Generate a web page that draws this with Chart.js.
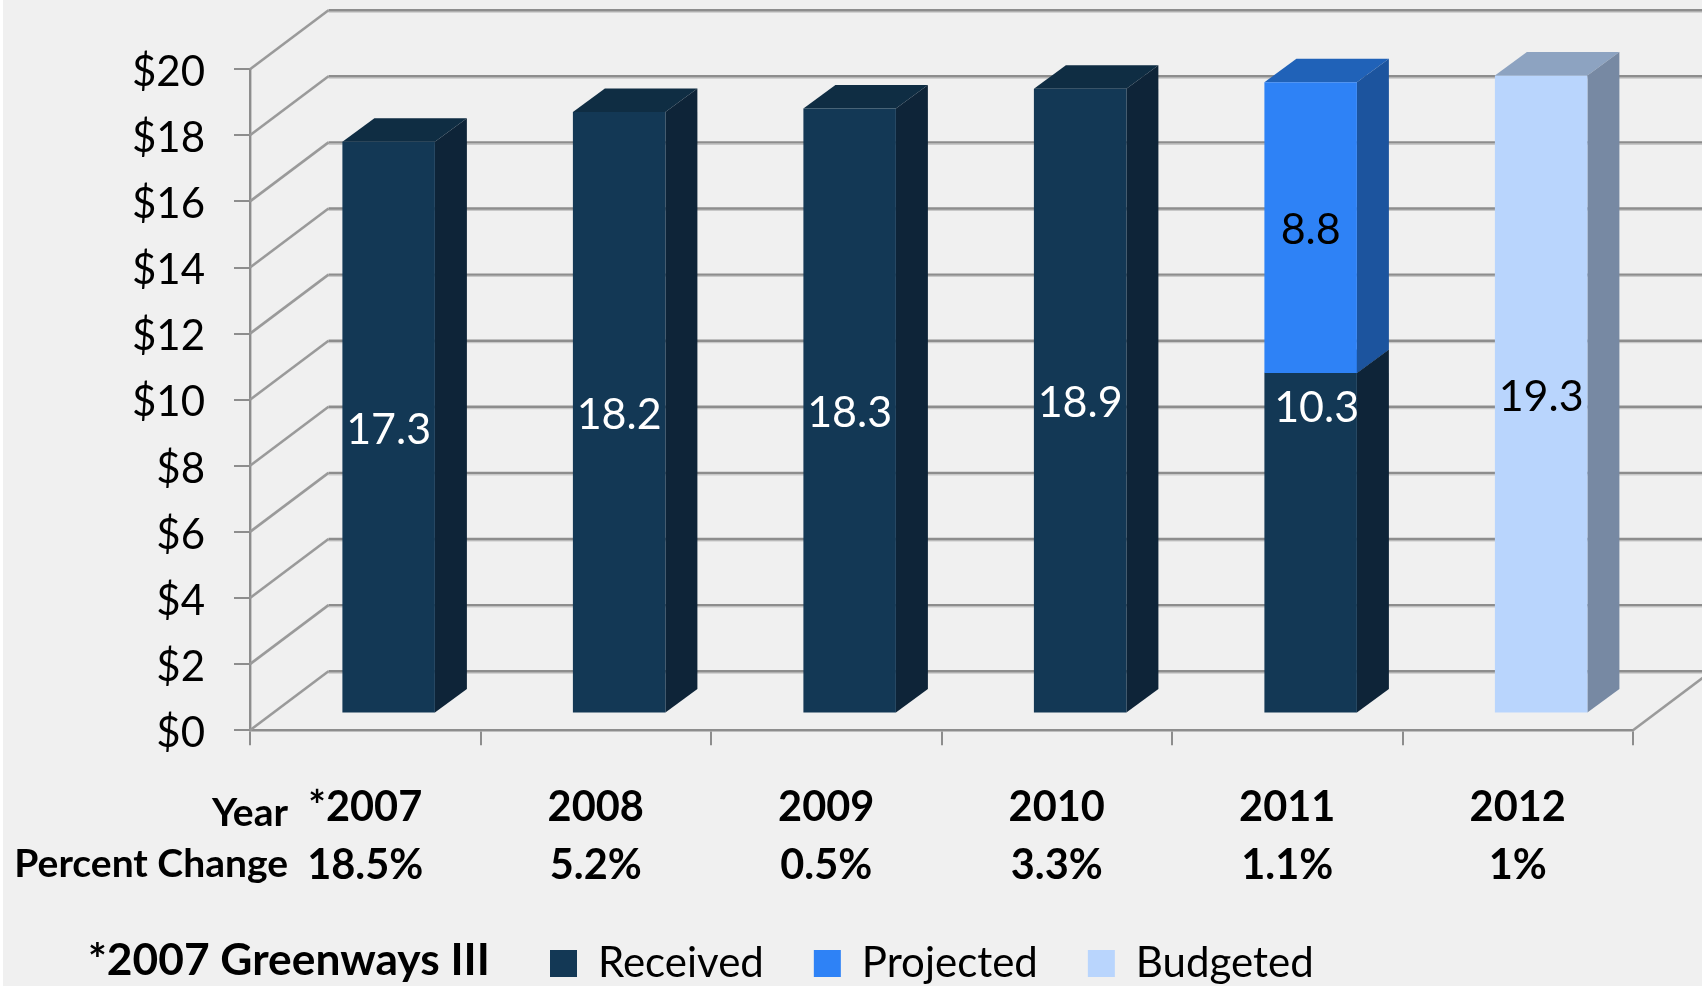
<!DOCTYPE html>
<html>
<head>
<meta charset="utf-8">
<title>Funding by year</title>
<script src="https://cdn.jsdelivr.net/npm/chart.js@4"></script>
<style>
  html, body { margin: 0; padding: 0; background: #fff; }
  canvas { display: block; }
</style>
</head>
<body>
<canvas id="chart" width="1702" height="987"></canvas>
<script>
// Values
const years = ['*2007', '2008', '2009', '2010', '2011', '2012'];
const percentChange = ['18.5%', '5.2%', '0.5%', '3.3%', '1.1%', '1%'];
const received = [17.3, 18.2, 18.3, 18.9, 10.3, null];
const projected = [null, null, null, null, 8.8, null];
const budgeted = [null, null, null, null, null, 19.3];
const yTicks = [0, 2, 4, 6, 8, 10, 12, 14, 16, 18, 20];

// Faces of each extruded bar: front, side, top, and the value label colour
const faces = [
  { front: '#133855', side: '#0e2438', top: '#0f2d43', label: '#ffffff' },
  { front: '#2e82f6', side: '#1c549e', top: '#2062b8', label: '#000000' },
  { front: '#b9d5fd', side: '#7789a3', top: '#8da3c1', label: '#000000' }
];

const FONT = 'Lato, Carlito, "Open Sans", sans-serif';
const GRID = '#8d8d8d';
const WALL = { dx: 78.5, dy: -59 };      // back wall relative to the axis plane
const BAR_SHIFT = { dx: 23.4, dy: -16.8 }; // bar fronts relative to the axis plane
const BAR_DEPTH = { dx: 32, dy: -23.5 };

function stroke(ctx, x0, y0, x1, y1, color, width) {
  ctx.strokeStyle = color;
  ctx.lineWidth = width;
  ctx.beginPath();
  ctx.moveTo(x0, y0);
  ctx.lineTo(x1, y1);
  ctx.stroke();
}

function poly(ctx, pts, color) {
  ctx.fillStyle = color;
  ctx.beginPath();
  pts.forEach((p, i) => (i ? ctx.lineTo(p[0], p[1]) : ctx.moveTo(p[0], p[1])));
  ctx.closePath();
  ctx.fill();
}

const extrudedBars = {
  id: 'extrudedBars',

  // Legend sits on a hand-placed row beside the footnote
  afterLayout(chart) {
    const lg = chart.legend;
    lg.left = 550 - lg.options.labels.padding;
    lg.top = 963.5 - lg.options.labels.padding - lg.options.labels.font.size / 2;
  },

  beforeDraw(chart) {
    const { ctx, width, height } = chart;
    ctx.save();
    ctx.fillStyle = '#f0f0f0';
    ctx.fillRect(3, 0, width - 3, height - 1);
    ctx.restore();
  },

  beforeDatasetsDraw(chart) {
    const { ctx, scales: { x, y }, width } = chart;
    ctx.save();
    // Back wall rules and the left wall diagonals
    yTicks.forEach(v => {
      const py = y.getPixelForValue(v);
      stroke(ctx, x.left + WALL.dx, py + WALL.dy + 1.8, width, py + WALL.dy + 1.8, '#c8c8c8', 1.4);
      stroke(ctx, x.left + WALL.dx, py + WALL.dy, width, py + WALL.dy, GRID, 2.4);
      stroke(ctx, x.left, py, x.left + WALL.dx, py + WALL.dy, '#9a9a9a', 2.6);
    });
    // Floor edge on the right
    const y0 = y.getPixelForValue(0);
    stroke(ctx, x.right, y0, x.right + WALL.dx, y0 + WALL.dy, '#9a9a9a', 2.6);

    // Tops and sides; the fronts come from the library's own bar elements
    ctx.translate(BAR_SHIFT.dx, BAR_SHIFT.dy);
    chart.data.datasets.forEach((ds, d) => {
      chart.getDatasetMeta(d).data.forEach((bar, i) => {
        if (ds.data[i] == null) return;
        const { x: cx, y: top, base, width: w } = bar.getProps(['x', 'y', 'base', 'width']);
        const l = cx - w / 2, r = cx + w / 2;
        const { dx, dy } = BAR_DEPTH;
        poly(ctx, [[l, top], [r, top], [r + dx, top + dy], [l + dx, top + dy]], faces[d].top);
        poly(ctx, [[r, top], [r + dx, top + dy], [r + dx, base + dy], [r, base]], faces[d].side);
      });
    });
  },

  afterDatasetsDraw(chart) {
    const { ctx } = chart;
    // Still translated from beforeDatasetsDraw: value labels follow the bar fronts
    ctx.font = '43px ' + FONT;
    ctx.textAlign = 'center';
    ctx.textBaseline = 'middle';
    chart.data.datasets.forEach((ds, d) => {
      chart.getDatasetMeta(d).data.forEach((bar, i) => {
        const v = ds.data[i];
        if (v == null) return;
        const { x: cx, y: top, base } = bar.getProps(['x', 'y', 'base']);
        // The lower segment of the stacked 2011 bar carries its label near its top
        const stacked = d === 0 && projected[i] != null;
        ctx.fillStyle = faces[d].label;
        ctx.fillText(v.toFixed(1),
          cx + (stacked ? 6 : 0),
          stacked ? (top + base) / 2 - 134.5 : (top + base) / 2 + 3);
      });
    });
    ctx.restore();
  },

  afterDraw(chart) {
    const { ctx } = chart;
    ctx.save();
    ctx.fillStyle = '#000';
    ctx.textBaseline = 'middle';
    ctx.textAlign = 'right';
    ctx.font = 'bold 39px ' + FONT;
    ctx.fillText('Year', 288, 813);
    ctx.fillText('Percent Change', 288, 864);
    ctx.textAlign = 'left';
    ctx.font = 'bold 44.3px ' + FONT;
    ctx.fillText('*2007 Greenways III', 88, 961);
    ctx.restore();
  }
};

new Chart(document.getElementById('chart'), {
  type: 'bar',
  data: {
    labels: years.map((y, i) => [y, percentChange[i]]),
    datasets: [
      { label: 'Received', data: received, backgroundColor: faces[0].front },
      { label: 'Projected', data: projected, backgroundColor: faces[1].front },
      { label: 'Budgeted', data: budgeted, backgroundColor: faces[2].front }
    ]
  },
  options: {
    responsive: false,
    animation: false,
    layout: { padding: { top: 69.2, right: 69, left: 0, bottom: 0 } },
    datasets: { bar: { barPercentage: 1, categoryPercentage: 92.5 / 230.5, borderWidth: 0 } },
    plugins: {
      tooltip: { enabled: false },
      legend: {
        position: 'bottom',
        align: 'start',
        labels: {
          boxWidth: 27,
          boxHeight: 27,
          padding: 50,
          color: '#000',
          font: { family: FONT, size: 42 }
        }
      }
    },
    scales: {
      x: {
        stacked: true,
        afterFit(s) { s.height = 256.8 - (s.chart.legend ? s.chart.legend.height : 0); },
        border: { color: GRID, width: 2.5 },
        grid: { drawOnChartArea: false, drawTicks: true, tickLength: 15, color: GRID, lineWidth: 2 },
        ticks: {
          color: '#000',
          padding: 33,
          maxRotation: 0,
          autoSkip: false,
          font: { family: FONT, size: 41.5, weight: 'bold', lineHeight: 1.4 }
        }
      },
      y: {
        stacked: true,
        min: 0,
        max: 20,
        afterFit(s) { s.width = 250; },
        border: { color: GRID, width: 2.4 },
        grid: { drawOnChartArea: false, drawTicks: true, tickLength: 16, color: GRID, lineWidth: 2 },
        ticks: {
          stepSize: 2,
          color: '#000',
          padding: 29,
          // A tight leading plus an empty first line sets the figures just below their tick
          font: { family: FONT, size: 42, lineHeight: '6.5px' },
          callback: v => ['', '$' + v]
        }
      }
    }
  },
  plugins: [extrudedBars]
});
</script>
</body>
</html>
